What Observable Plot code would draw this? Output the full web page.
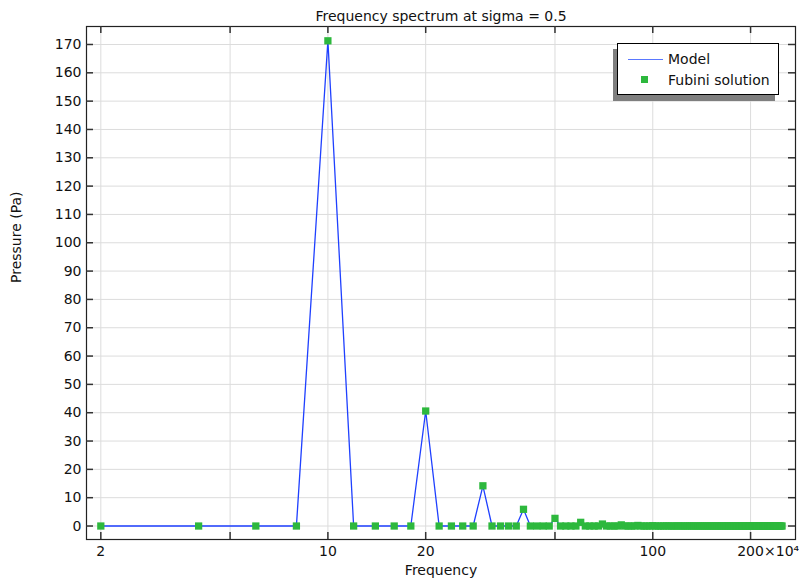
<!DOCTYPE html>
<html>
<head>
<meta charset="utf-8">
<script src="https://cdn.jsdelivr.net/npm/d3@7"></script>
<script src="https://cdn.jsdelivr.net/npm/@observablehq/plot@0.6"></script>
<style>
  html, body { margin: 0; padding: 0; background: #fff; }
  #wrap { position: relative; width: 799px; height: 579px; font-family: "DejaVu Sans", sans-serif; }
  #legend { position: absolute; left: 617px; top: 43px; width: 160px; height: 50px; border: 1px solid #000;
            background: #fff; box-shadow: -4px 6px 0 #7f7f7f; font-size: 14px; color: #111; }
  .li { position: absolute; left: 0; height: 16px; line-height: 16px; }
  .lab { position: absolute; left: 50px; white-space: nowrap; }
</style>
</head>
<body>
<div id="wrap"></div>
<script>
const title = "Frequency spectrum at sigma = 0.5";
const xLabel = "Frequency";
const yLabel = "Pressure (Pa)";
const seriesNames = ["Model", "Fubini solution"];
const xTicks = [2, 5, 10, 20, 50, 100, 200];
const xTickExp = "×10⁴";
const yTicks = [0, 10, 20, 30, 40, 50, 60, 70, 80, 90, 100, 110, 120, 130, 140, 150, 160, 170];

// frequency (×10^4 Hz)
const frequency = [
  2, 4, 6, 8, 10, 12, 14, 16, 18, 20,
  22, 24, 26, 28, 30, 32, 34, 36, 38, 40,
  42, 44, 46, 48, 50, 52, 54, 56, 58, 60,
  62, 64, 66, 68, 70, 72, 74, 76, 78, 80,
  82, 84, 86, 88, 90, 92, 94, 96, 98, 100,
  102, 104, 106, 108, 110, 112, 114, 116, 118, 120,
  122, 124, 126, 128, 130, 132, 134, 136, 138, 140,
  142, 144, 146, 148, 150, 152, 154, 156, 158, 160,
  162, 164, 166, 168, 170, 172, 174, 176, 178, 180,
  182, 184, 186, 188, 190, 192, 194, 196, 198, 200,
  202, 204, 206, 208, 210, 212, 214, 216, 218, 220,
  222, 224, 226, 228, 230, 232, 234, 236, 238, 240,
  242, 244, 246, 248, 250
];
// Model pressure (Pa)
const model = [
  0, 0, 0, 0, 171.3, 0, 0, 0, 0, 40.6,
  0, 0, 0, 0, 14.2, 0, 0, 0, 0, 5.9,
  0, 0, 0, 0, 2.7, 0, 0, 0, 0, 1.3,
  0, 0, 0, 0, 0.7, 0, 0, 0, 0, 0.4,
  0, 0, 0, 0, 0.2, 0, 0, 0, 0, 0.1,
  0, 0, 0, 0, 0.05, 0, 0, 0, 0, 0.03,
  0, 0, 0, 0, 0.02, 0, 0, 0, 0, 0.01,
  0, 0, 0, 0, 0, 0, 0, 0, 0, 0,
  0, 0, 0, 0, 0, 0, 0, 0, 0, 0,
  0, 0, 0, 0, 0, 0, 0, 0, 0, 0,
  0, 0, 0, 0, 0, 0, 0, 0, 0, 0,
  0, 0, 0, 0, 0, 0, 0, 0, 0, 0,
  0, 0, 0, 0, 0
];
// Fubini solution pressure (Pa)
const fubini = [
  0, 0, 0, 0, 171.3, 0, 0, 0, 0, 40.6,
  0, 0, 0, 0, 14.2, 0, 0, 0, 0, 5.9,
  0, 0, 0, 0, 2.7, 0, 0, 0, 0, 1.3,
  0, 0, 0, 0, 0.7, 0, 0, 0, 0, 0.4,
  0, 0, 0, 0, 0.2, 0, 0, 0, 0, 0.1,
  0, 0, 0, 0, 0.05, 0, 0, 0, 0, 0.03,
  0, 0, 0, 0, 0.02, 0, 0, 0, 0, 0.01,
  0, 0, 0, 0, 0, 0, 0, 0, 0, 0,
  0, 0, 0, 0, 0, 0, 0, 0, 0, 0,
  0, 0, 0, 0, 0, 0, 0, 0, 0, 0,
  0, 0, 0, 0, 0, 0, 0, 0, 0, 0,
  0, 0, 0, 0, 0, 0, 0, 0, 0, 0,
  0, 0, 0, 0, 0
];

const lineColor = "#1f40ff";
const dotColor = "#2db83d";

const data = frequency.map((f, i) => ({f, model: model[i], fubini: fubini[i]}));

const W = 799, H = 579;
const mL = 86, mR = 4, mT = 26, mB = 40;
const innerW = W - mL - mR, innerH = H - mT - mB;
const tl = 7;
const fs = 14;

const chart = Plot.plot({
  width: W, height: H,
  marginLeft: mL, marginRight: mR, marginTop: mT, marginBottom: mB,
  style: {fontFamily: "DejaVu Sans, sans-serif", fontSize: "14px", color: "#111", background: "#fff"},
  x: {type: "log", domain: [1.807, 275], axis: null},
  y: {domain: [-4.76, 176.35], axis: null},
  marks: [
    Plot.gridX(xTicks, {stroke: "#dcdcdc", strokeOpacity: 1}),
    Plot.gridY(yTicks, {stroke: "#dcdcdc", strokeOpacity: 1}),
    Plot.line(data, {x: "f", y: "model", stroke: lineColor, strokeWidth: 1.3}),
    Plot.dot(data, {x: "f", y: "fubini", symbol: "square", r: 4.1, fill: dotColor, stroke: "none"}),
    Plot.frame({stroke: "#222", strokeWidth: 1.2}),
    // inward ticks
    Plot.ruleX(xTicks, {x: d => d, insetTop: innerH - tl, stroke: "#333", strokeWidth: 1.5}),
    Plot.ruleX(xTicks, {x: d => d, insetBottom: innerH - tl, stroke: "#333", strokeWidth: 1.5}),
    Plot.ruleY(yTicks, {y: d => d, insetRight: innerW - tl, stroke: "#333", strokeWidth: 1.5}),
    Plot.ruleY(yTicks, {y: d => d, insetLeft: innerW - tl, stroke: "#333", strokeWidth: 1.5}),
    // tick labels
    Plot.axisX(xTicks, {tickSize: 0, tickPadding: 7, tickFormat: d => String(d), label: null, fill: "#111", fontSize: fs}),
    Plot.text([200], {x: d => d, frameAnchor: "bottom", text: () => xTickExp, textAnchor: "start",
      lineAnchor: "top", dx: 13.5, dy: 7, fill: "#111", fontSize: fs}),
    Plot.axisY(yTicks, {tickSize: 0, tickPadding: 5, tickFormat: d => String(d), label: null, fill: "#111", fontSize: fs}),
    // titles
    Plot.text([title], {frameAnchor: "top", text: d => d, dy: -15, fill: "#111", fontSize: fs}),
    Plot.text([xLabel], {frameAnchor: "bottom", text: d => d, dy: 31, lineAnchor: "middle", fill: "#111", fontSize: fs}),
    Plot.text([yLabel], {frameAnchor: "left", text: d => d, dx: -70, rotate: -90, fill: "#111", fontSize: fs})
  ]
});

const wrap = document.getElementById("wrap");
wrap.appendChild(chart);

const legend = document.createElement("div");
legend.id = "legend";
legend.innerHTML = `
  <div class="li" style="top:7px;width:160px;">
    <div style="position:absolute;left:10px;top:7.5px;width:35px;height:1.5px;background:#5a78ff;"></div>
    <span class="lab">${seriesNames[0]}</span>
  </div>
  <div class="li" style="top:28px;width:160px;">
    <div style="position:absolute;left:23px;top:4px;width:7px;height:7px;background:${dotColor};"></div>
    <span class="lab">${seriesNames[1]}</span>
  </div>`;
wrap.appendChild(legend);
</script>
</body>
</html>
